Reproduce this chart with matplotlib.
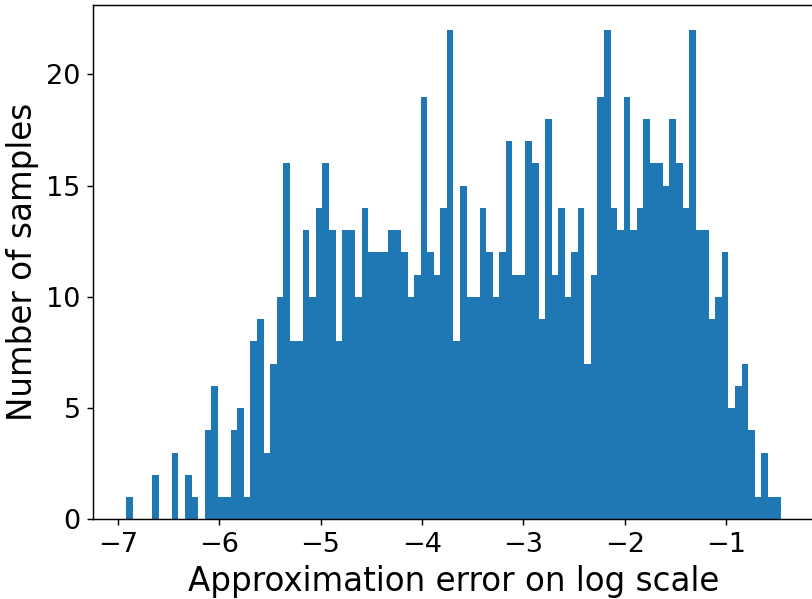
import numpy as np
import matplotlib
matplotlib.use("Agg")
import matplotlib.pyplot as plt


# histogram of log10 approximation errors, 100 equal bins
lo, hi = -6.918, -0.461
counts = [1, 0, 0, 0, 2, 0, 0, 3, 0, 2,
          1, 0, 4, 6, 1, 1, 4, 5, 1, 8,
          9, 3, 7, 10, 16, 8, 8, 13, 10, 14,
          16, 13, 8, 13, 13, 10, 14, 12, 12, 12,
          13, 13, 12, 10, 11, 19, 12, 11, 14, 22,
          8, 15, 10, 10, 14, 12, 10, 12, 17, 11,
          11, 17, 16, 9, 18, 11, 14, 10, 12, 14,
          7, 11, 19, 22, 14, 13, 19, 13, 14, 18,
          16, 16, 15, 18, 16, 14, 22, 13, 13, 9,
          10, 12, 5, 6, 7, 4, 1, 3, 1, 1]

edges = np.linspace(lo, hi, len(counts) + 1)
centers = 0.5 * (edges[:-1] + edges[1:])

dpi = 130
fig = plt.figure(figsize=(812 / dpi, 599 / dpi), dpi=dpi)
ax = fig.add_axes([0.1149, 0.1331, 0.887, 0.858])

ax.hist(centers, bins=edges, weights=counts)

ax.set_xlabel("Approximation error on log scale", fontsize=18)
ax.set_ylabel("Number of samples", fontsize=18)
ax.tick_params(labelsize=15)

fig.savefig("out.png", dpi=dpi)
